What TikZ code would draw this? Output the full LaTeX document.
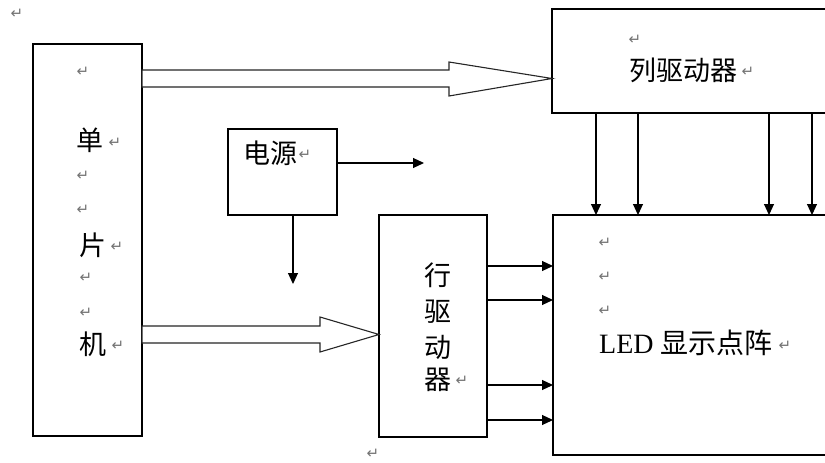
\documentclass[tikz,border=0pt]{standalone}
\usepackage{fontspec}
\setmainfont{Liberation Serif}
\newfontfamily\cjk{Noto Sans CJK SC}
\newfontfamily\dejavu{DejaVu Sans}
\usetikzlibrary{arrows.meta,calc}
\tikzset{
  box/.style={draw=black, line width=1.2pt, inner sep=0pt, outer sep=0pt, fill=white},
  arr/.style={draw=black, line width=1.1pt, -{Triangle[length=11pt,width=10pt]}},
  hollow/.style={draw=black!85, line width=1.1pt, fill=white, line join=miter},
  cn/.style={font=\cjk\fontsize{27}{27}\selectfont, inner sep=0pt, text=black},
  ret/.style={font=\dejavu\fontsize{15}{15}\selectfont, inner sep=0pt, text=black!55},
}
\begin{document}
\begin{tikzpicture}[x=1pt,y=-1pt]
\useasboundingbox (0,0) rectangle (825,463);
\clip (0,0) rectangle (825,463);
\fill[white] (0,0) rectangle (825,463);
% boxes
\node[box, minimum width=109pt, minimum height=392pt] (mcu) at (87.5,240) {};
\node[box, minimum width=290pt, minimum height=104pt, anchor=north west] (col) at (552,9) {};
\node[box, minimum width=290pt, minimum height=240pt, anchor=north west] (led) at (553,215) {};
\node[box, minimum width=108pt, minimum height=222pt] (row) at (433,326) {};
\node[box, minimum width=109pt, minimum height=86pt] (pow) at (282.5,172) {};
% hollow arrows (shapes)
\draw[hollow] (142,70) -- (449,70) -- (449,62) -- (552,78.5) -- (449,96) -- (449,87) -- (142,87) -- cycle;
\draw[hollow] (142,326) -- (320,326) -- (320,317) -- (379,334.5) -- (320,352) -- (320,343) -- (142,343) -- cycle;
% column driver arrows
\foreach \xx in {596,638,769,812}{
  \draw[arr] (col.south -| \xx,0) -- (led.north -| \xx,0);
}
% row driver arrows
\foreach \yy in {266,300,385,420}{
  \draw[arr] (row.east |- 0,\yy) -- (led.west |- 0,\yy);
}
% power arrows
\coordinate (pend) at (424,163);
\coordinate (dend) at (293,284);
\draw[arr] (pow.east |- pend) -- (pend);
\draw[arr] (pow.south -| dend) -- (dend);
% texts
\node[cn] (tcol) at (683,70) {列驱动器};
\node[cn] (tpow) at (270,153) {电源};
\node[cn] (tdan) at (90,140) {单};
\node[cn] (tpian) at (93,245) {片};
\node[cn] (tji) at (93,344) {机};
\node[cn] (tr1) at (438,275) {行};
\node[cn] (tr2) at (438,312) {驱};
\node[cn] (tr3) at (438,347) {动};
\node[cn] (tr4) at (438,380) {器};
\node[inner sep=0pt, anchor=west] (tled) at (599,343) {\fontsize{28}{28}\selectfont LED {\cjk\fontsize{28}{28}\selectfont 显示点阵}};
% paragraph marks
\node[ret] (r0) at (17,14) {↵};
\node[ret] (r1) at (83,72) {↵};
\node[ret] (r2) at (115,143) {↵};
\node[ret] (r3) at (83,176) {↵};
\node[ret] (r4) at (83,210) {↵};
\node[ret] (r5) at (117,247) {↵};
\node[ret] (r6) at (86,278) {↵};
\node[ret] (r7) at (86,313) {↵};
\node[ret] (r8) at (118,346) {↵};
\node[ret] (r9) at (305,155) {↵};
\node[ret] (r10) at (635,40) {↵};
\node[ret] (r11) at (748,72) {↵};
\node[ret] (r12) at (462,381) {↵};
\node[ret] (r13) at (605,243) {↵};
\node[ret] (r14) at (605,277) {↵};
\node[ret] (r15) at (605,311) {↵};
\node[ret] (r16) at (785,346) {↵};
\node[ret] (r17) at (373,454) {↵};
\end{tikzpicture}
\end{document}
